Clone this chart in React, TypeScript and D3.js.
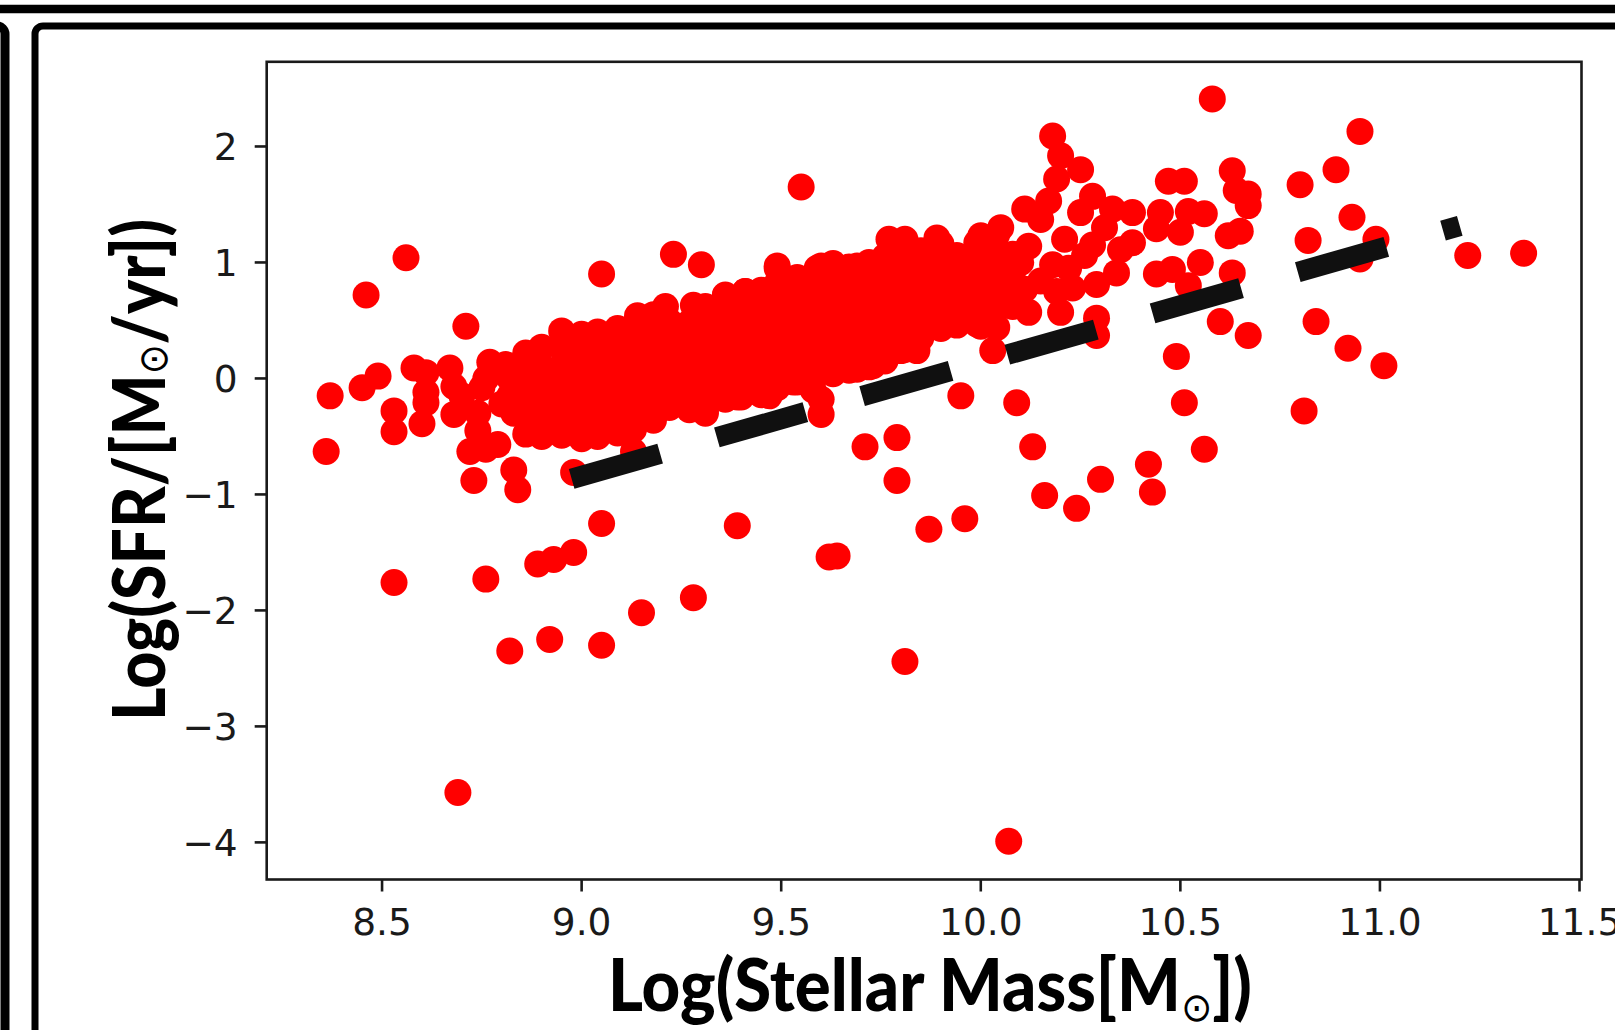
import React from 'react';
import * as d3 from 'd3';

// axis limits (matplotlib style 5% margins around data)
const massDomain = [8.211, 11.505];
const sfrDomain = [-4.32, 2.73];

const xTicks = [8.5, 9.0, 9.5, 10.0, 10.5, 11.0, 11.5];
const xTickLabels = ['8.5', '9.0', '9.5', '10.0', '10.5', '11.0', '11.5'];
const yTicks = [2, 1, 0, -1, -2, -3, -4];
const yTickLabels = ['2', '1', '0', '\u22121', '\u22122', '\u22123', '\u22124'];

// dashed reference relation
const fitMass = [8.975, 11.2];
const fitSfr = [-0.865, 1.315];

// sparse galaxies around / below the main sequence, [log M*, log SFR]
const scattered: [number, number][] = [
  [8.37, -0.15], [8.36, -0.63], [8.46, 0.72], [8.45, -0.08], [8.49, 0.02], [8.53, -0.28],
  [8.53, -0.46], [8.56, 1.04], [8.58, 0.09], [8.61, 0.05], [8.61, -0.12], [8.61, -0.21],
  [8.60, -0.39], [8.53, -1.76], [8.69, -3.57], [8.71, 0.45], [8.67, 0.09], [8.68, -0.07],
  [8.70, -0.15], [8.68, -0.31], [8.77, 0.14], [8.74, -0.30], [8.74, -0.45], [8.72, -0.63],
  [8.76, -0.61], [8.79, -0.57], [8.73, -0.88], [8.83, -0.79], [8.84, -0.96], [8.98, -0.81],
  [9.05, -1.25], [8.76, -1.73], [8.82, -2.35], [8.92, -2.25], [9.05, -2.30], [9.15, -2.02],
  [9.28, -1.89], [8.89, -1.60], [8.93, -1.56], [8.98, -1.50], [9.39, -1.27], [9.05, 0.90],
  [9.23, 1.07], [9.30, 0.98], [9.55, 1.65], [9.13, -0.63], [9.31, -0.30], [9.60, -0.31],
  [9.60, -0.18], [9.62, -1.54], [9.64, -1.53], [9.71, -0.59], [9.79, -0.51], [9.79, -0.88],
  [9.81, -2.44], [9.87, -1.30], [9.96, -1.21], [10.07, -3.99], [9.95, -0.15], [10.09, -0.21],
  [10.13, -0.59], [10.16, -1.01], [10.24, -1.12], [10.30, -0.87], [10.42, -0.74], [10.43, -0.98],
  [10.56, -0.61], [10.51, -0.21], [10.49, 0.19], [10.67, 0.37], [10.29, 0.37], [10.29, 0.52],
  [10.03, 0.24], [10.60, 0.49], [10.84, 0.49], [10.92, 0.26], [11.01, 0.11], [10.81, -0.28],
  [10.58, 2.41], [10.95, 2.13], [10.89, 1.80], [10.80, 1.67], [10.93, 1.39], [10.82, 1.19],
  [10.99, 1.20], [10.95, 1.03], [11.22, 1.06], [11.36, 1.08], [10.47, 1.70], [10.51, 1.70],
  [10.63, 1.79], [10.64, 1.62], [10.67, 1.59], [10.67, 1.49], [10.45, 1.43], [10.52, 1.44],
  [10.56, 1.42], [10.44, 1.29], [10.50, 1.26], [10.62, 1.23], [10.65, 1.27], [10.44, 0.90],
  [10.48, 0.94], [10.55, 1.00], [10.63, 0.91], [10.52, 0.80], [10.18, 2.09], [10.20, 1.92],
  [10.25, 1.80], [10.19, 1.72], [10.17, 1.53], [10.11, 1.46], [10.15, 1.37], [10.28, 1.57],
  [10.25, 1.43], [10.33, 1.46], [10.38, 1.43], [10.31, 1.30], [10.38, 1.17], [10.12, 0.57],
  [10.19, 0.75], [10.20, 0.57], [10.23, 0.78], [10.29, 0.81], [10.34, 0.91], [10.26, 1.06],
  [10.21, 1.20], [10.18, 0.98], [10.35, 1.11], [10.12, 1.14], [10.15, 0.84], [10.04, 0.44],
  [10.00, 0.45], [10.05, 1.30], [10.00, 1.23], [9.89, 1.21], [9.77, 1.20], [9.81, 1.20],
  [9.49, 0.97], [9.60, 0.97], [9.69, 0.97], [9.41, 0.75], [9.36, 0.71], [10.11, 0.77],
  [9.90, 0.45], [9.84, 0.39], [9.84, 0.24], [9.80, 0.24], [9.73, 0.11], [9.69, 0.08],
  [9.62, 0.06], [9.53, -0.03], [9.47, -0.15], [9.39, -0.16], [10.01, 0.62], [10.04, 1.24],
  [8.82, 0.0], [8.82, -0.15], [8.81, 0.12], [8.83, -0.30], [8.76, 0.0], [8.75, -0.08],
  [8.80, -0.22], [10.22, 0.95], [10.28, 1.15], [10.10, 1.00],
];

// dense main-sequence band, [log M*, log SFR]
const mainSequence: [number, number][] = [
  [8.86, -0.48], [8.86, -0.33], [8.86, -0.18], [8.86, -0.03], [8.86, 0.12], [8.86, 0.22],
  [8.90, -0.50], [8.90, -0.35], [8.90, -0.20], [8.90, -0.05], [8.90, 0.10], [8.90, 0.27],
  [8.95, -0.49], [8.95, -0.34], [8.95, -0.19], [8.95, -0.04], [8.95, 0.11], [8.95, 0.26], [8.95, 0.41],
  [9.00, -0.52], [9.00, -0.37], [9.00, -0.22], [9.00, -0.07], [9.00, 0.08], [9.00, 0.23], [9.00, 0.38],
  [9.04, -0.50], [9.04, -0.35], [9.04, -0.20], [9.04, -0.05], [9.04, 0.10], [9.04, 0.25], [9.04, 0.40],
  [9.09, -0.47], [9.09, -0.32], [9.09, -0.17], [9.09, -0.02], [9.09, 0.13], [9.09, 0.28], [9.09, 0.43],
  [9.13, -0.44], [9.13, -0.29], [9.13, -0.14], [9.13, 0.01], [9.13, 0.16], [9.13, 0.31], [9.13, 0.45], [9.14, 0.54],
  [9.18, -0.36], [9.18, -0.21], [9.18, -0.06], [9.18, 0.09], [9.18, 0.24], [9.18, 0.39], [9.18, 0.55],
  [9.22, -0.25], [9.22, -0.11], [9.22, 0.04], [9.22, 0.19], [9.22, 0.34], [9.22, 0.49], [9.21, 0.62],
  [9.27, -0.27], [9.27, -0.12], [9.27, 0.03], [9.27, 0.18], [9.27, 0.33], [9.27, 0.48], [9.28, 0.63],
  [9.31, -0.28], [9.31, -0.13], [9.31, 0.02], [9.31, 0.17], [9.31, 0.32], [9.31, 0.47], [9.31, 0.62],
  [9.36, -0.18], [9.36, -0.03], [9.36, 0.12], [9.36, 0.27], [9.36, 0.42], [9.36, 0.57], [9.36, 0.72],
  [9.40, -0.16], [9.40, -0.01], [9.40, 0.14], [9.40, 0.29], [9.40, 0.44], [9.40, 0.59], [9.41, 0.75],
  [9.45, -0.14], [9.45, 0.01], [9.45, 0.16], [9.45, 0.31], [9.45, 0.46], [9.45, 0.61], [9.45, 0.76],
  [9.49, -0.08], [9.49, 0.07], [9.49, 0.22], [9.49, 0.37], [9.49, 0.52], [9.49, 0.67], [9.49, 0.82], [9.49, 0.95],
  [9.54, -0.03], [9.54, 0.12], [9.54, 0.27], [9.54, 0.42], [9.54, 0.57], [9.54, 0.72], [9.54, 0.87],
  [9.58, -0.10], [9.58, 0.05], [9.58, 0.20], [9.58, 0.35], [9.58, 0.50], [9.58, 0.65], [9.58, 0.80], [9.59, 0.95],
  [9.63, 0.04], [9.63, 0.19], [9.63, 0.34], [9.63, 0.49], [9.63, 0.64], [9.63, 0.79], [9.63, 0.99],
  [9.67, 0.07], [9.67, 0.22], [9.67, 0.37], [9.67, 0.52], [9.67, 0.67], [9.67, 0.82], [9.67, 0.96],
  [9.72, 0.10], [9.72, 0.25], [9.72, 0.40], [9.72, 0.55], [9.72, 0.70], [9.72, 0.85], [9.72, 1.00],
  [9.76, 0.15], [9.76, 0.30], [9.76, 0.45], [9.76, 0.60], [9.76, 0.75], [9.76, 0.90], [9.76, 1.05],
  [9.81, 0.25], [9.81, 0.40], [9.81, 0.55], [9.81, 0.70], [9.81, 0.85], [9.81, 1.00], [9.81, 1.12],
  [9.85, 0.35], [9.85, 0.50], [9.85, 0.65], [9.85, 0.80], [9.85, 0.95], [9.85, 1.10],
  [9.90, 0.43], [9.90, 0.58], [9.90, 0.73], [9.90, 0.88], [9.90, 1.03], [9.90, 1.16],
  [9.94, 0.46], [9.94, 0.61], [9.94, 0.76], [9.94, 0.91], [9.94, 1.06],
  [9.99, 0.47], [9.99, 0.62], [9.99, 0.77], [9.99, 0.92], [9.99, 1.07], [9.99, 1.17],
  [10.03, 0.52], [10.03, 0.67], [10.03, 0.82], [10.03, 0.97], [10.03, 1.12],
  [10.08, 0.62], [10.08, 0.77], [10.08, 0.92], [10.08, 1.07],
];

const W = 1615;
const H = 1030;
const plot = { l: 266.7, r: 1581.5, t: 61.8, b: 879.5 };
const TICK_FONT = '"DejaVu Sans", Verdana, sans-serif';
const LABEL_FONT = 'Lato, "Open Sans", "DejaVu Sans", sans-serif';

export default function App() {
  const x = d3.scaleLinear().domain(massDomain).range([plot.l, plot.r]);
  const y = d3.scaleLinear().domain(sfrDomain).range([plot.b, plot.t]);

  const allPoints = [...mainSequence, ...scattered];
  const fitPath = d3
    .line<number>()
    .x((d) => x(d))
    .y((_, i) => y(fitSfr[i]))(fitMass);

  return (
    <div style={{ position: 'absolute', left: 0, top: 0 }}>
      <svg width={W} height={H} style={{ display: 'block', background: '#fff' }}>
        {/* slide frames */}
        <line x1={0} x2={W} y1={9} y2={9} stroke="#000" strokeWidth={8.5} />
        <rect x={-300} y={26} width={305} height={1200} rx={8} fill="none" stroke="#000" strokeWidth={9} />
        <rect x={35} y={26} width={1800} height={1200} rx={8} fill="none" stroke="#000" strokeWidth={7} />

        {/* markers */}
        <g fill="#ff0000">
          {allPoints.map((d, i) => (
            <circle key={i} cx={x(d[0])} cy={y(d[1])} r={13.5} />
          ))}
        </g>

        {/* dashed relation */}
        <path
          d={fitPath || ''}
          fill="none"
          stroke="#101010"
          strokeWidth={20.5}
          strokeDasharray="92 59"
          strokeLinecap="butt"
        />

        {/* axes box */}
        <rect
          x={plot.l}
          y={plot.t}
          width={plot.r - plot.l}
          height={plot.b - plot.t}
          fill="none"
          stroke="#1a1a1a"
          strokeWidth={2.6}
        />

        {xTicks.map((t, i) => (
          <g key={'x' + t} transform={`translate(${x(t)},${plot.b})`}>
            <line y1={0} y2={12} stroke="#1a1a1a" strokeWidth={2.6} />
            <text
              y={55}
              textAnchor="middle"
              fontFamily={TICK_FONT}
              fontSize={37.5}
              fill="#1a1a1a"
            >
              {xTickLabels[i]}
            </text>
          </g>
        ))}

        {yTicks.map((t, i) => (
          <g key={'y' + t} transform={`translate(${plot.l},${y(t)})`}>
            <line x1={-12} x2={0} stroke="#1a1a1a" strokeWidth={2.6} />
            <text
              x={-29}
              dy="0.36em"
              textAnchor="end"
              fontFamily={TICK_FONT}
              fontSize={37.5}
              fill="#1a1a1a"
            >
              {yTickLabels[i]}
            </text>
          </g>
        ))}

        {/* axis titles */}
        <text
          x={930}
          y={1011}
          textAnchor="middle"
          fontFamily={LABEL_FONT}
          fontWeight={900}
          fontSize={72}
          fill="#000"
          textLength={644}
          lengthAdjust="spacingAndGlyphs"
        >
          Log(Stellar Mass[M
          <tspan fontSize={40} fontWeight={400} dy={10}>
            ⊙
          </tspan>
          <tspan dy={-10}>])</tspan>
        </text>

        <text
          transform="translate(165,470) rotate(-90)"
          textAnchor="middle"
          fontFamily={LABEL_FONT}
          fontWeight={900}
          fontSize={72}
          fill="#000"
          textLength={502}
          lengthAdjust="spacingAndGlyphs"
        >
          Log(SFR/[M
          <tspan fontSize={40} fontWeight={400} dy={2}>
            ⊙
          </tspan>
          <tspan dy={-2}>/yr])</tspan>
        </text>
      </svg>
    </div>
  );
}
